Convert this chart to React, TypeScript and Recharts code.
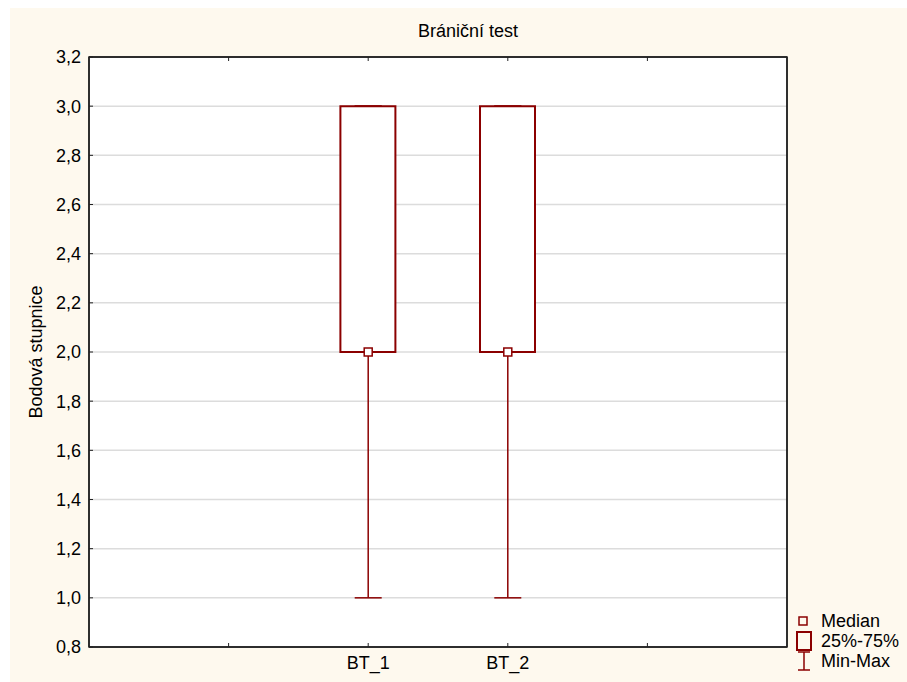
import {
  ComposedChart,
  Bar,
  Scatter,
  ErrorBar,
  XAxis,
  YAxis,
  CartesianGrid,
  Legend,
  ReferenceArea,
} from "recharts"

// hodnoty
const categories = ["BT_1", "BT_2"]
const minValues = [1.0, 1.0]
const q1Values = [2.0, 2.0]
const medianValues = [2.0, 2.0]
const q3Values = [3.0, 3.0]
const maxValues = [3.0, 3.0]

const yTicks = [0.8, 1.0, 1.2, 1.4, 1.6, 1.8, 2.0, 2.2, 2.4, 2.6, 2.8, 3.0, 3.2]
const xTicks = [1, 2, 3, 4]
const legendItems = ["Median", "25%-75%", "Min-Max"]

const RED = "#8b0000"
const FONT = "'Liberation Sans', Arial, sans-serif"

// kategorie leží na pozicích 2 a 3 osy 0..5
const rows = categories.map((name, i) => ({
  name,
  pos: i + 2,
  q1: q1Values[i],
  q3: q3Values[i],
  median: medianValues[i],
  box: [q1Values[i], q3Values[i]],
  lowErr: [q1Values[i] - minValues[i], 0],
  highErr: [0, maxValues[i] - q3Values[i]],
}))

const fmt = (v: number) => v.toFixed(1).replace(".", ",")
const xLabel = (v: number) => {
  const idx = v - 2
  return categories[idx] ?? ""
}

const MedianShape = (props: any) => {
  const { cx, cy } = props
  if (cx == null || cy == null) return <g />
  return (
    <rect x={cx - 4} y={cy - 4} width={8} height={8} fill="#fff" stroke={RED} strokeWidth={1.5} />
  )
}

const Hidden = () => <g />

const LegendContent = () => (
  <div style={{ fontFamily: FONT, fontSize: 18, color: "#000" }}>
    {legendItems.map((label, i) => (
      <div key={label} style={{ display: "flex", alignItems: "center", height: 20 }}>
        <svg width={24} height={20}>
          {i === 0 && <rect x={4} y={6} width={8} height={8} fill="none" stroke={RED} strokeWidth={1.5} />}
          {i === 1 && <rect x={2} y={1} width={14} height={18} fill="none" stroke={RED} strokeWidth={2} />}
          {i === 2 && (
            <g stroke={RED} strokeWidth={1.5}>
              <line x1={3} y1={1} x2={15} y2={1} />
              <line x1={9} y1={1} x2={9} y2={19} />
              <line x1={3} y1={19} x2={15} y2={19} />
            </g>
          )}
        </svg>
        <span style={{ marginLeft: 2, lineHeight: "20px" }}>{label}</span>
      </div>
    ))}
  </div>
)

export default function App() {
  const tickStyle = { fontSize: 18, fill: "#000", fontFamily: FONT }
  return (
    <div style={{ position: "absolute", left: 0, top: 0, width: 907, height: 682, background: "#fff" }}>
      <div style={{ position: "absolute", left: 10, top: 8, right: 0, bottom: 0, background: "#fef9ee" }} />
      <div
        style={{
          position: "absolute",
          left: 0,
          width: 936,
          top: 21,
          textAlign: "center",
          fontFamily: FONT,
          fontSize: 18,
          color: "#000",
        }}
      >
        Brániční test
      </div>
      <div style={{ position: "absolute", left: 0, top: 0 }}>
        <ComposedChart
          width={907}
          height={682}
          data={rows}
          margin={{ top: 56, right: 119, bottom: 0, left: 0 }}
        >
          <CartesianGrid vertical={false} stroke="#dcdcdc" strokeWidth={1.5} fill="#fff" />
          <XAxis
            dataKey="pos"
            type="number"
            domain={[0, 5]}
            ticks={xTicks}
            tickFormatter={xLabel}
            height={35}
            tickSize={-4}
            tickMargin={13}
            tick={tickStyle}
            axisLine={{ stroke: "#222", strokeWidth: 1.5 }}
            tickLine={{ stroke: "#222" }}
            allowDataOverflow
          />
          <XAxis
            xAxisId="top"
            dataKey="pos"
            orientation="top"
            type="number"
            domain={[0, 5]}
            ticks={xTicks}
            tickFormatter={() => ""}
            height={1}
            tickSize={-4}
            axisLine={{ stroke: "#222", strokeWidth: 1.5 }}
            tickLine={{ stroke: "#222" }}
          />
          <YAxis
            type="number"
            domain={[0.8, 3.2]}
            ticks={yTicks}
            tickFormatter={fmt}
            width={89}
            tickSize={-4}
            tickMargin={12}
            tick={tickStyle}
            axisLine={{ stroke: "#222", strokeWidth: 1.5 }}
            tickLine={{ stroke: "#222" }}
            allowDataOverflow
            interval={0}
            label={{
              value: "Bodová stupnice",
              angle: -90,
              position: "center",
              dx: -9,
              style: { fontSize: 18, fill: "#000", fontFamily: FONT },
            }}
          />
          <YAxis
            yAxisId="right"
            orientation="right"
            type="number"
            domain={[0.8, 3.2]}
            ticks={yTicks}
            tickFormatter={() => ""}
            width={1}
            tickSize={-4}
            interval={0}
            axisLine={{ stroke: "#222", strokeWidth: 1.5 }}
            tickLine={{ stroke: "#222" }}
          />
          <ReferenceArea
            x1={0}
            x2={5}
            y1={0.8}
            y2={3.2}
            fill="none"
            stroke="#222"
            strokeWidth={1.5}
            ifOverflow="visible"
          />
          <Scatter dataKey="q1" shape={Hidden} isAnimationActive={false} legendType="none">
            <ErrorBar dataKey="lowErr" direction="y" width={13.5} stroke={RED} strokeWidth={1.5} />
          </Scatter>
          <Scatter dataKey="q3" shape={Hidden} isAnimationActive={false} legendType="none">
            <ErrorBar dataKey="highErr" direction="y" width={13.5} stroke={RED} strokeWidth={1.5} />
          </Scatter>
          <Bar
            dataKey="box"
            barSize={55}
            fill="#fff"
            stroke={RED}
            strokeWidth={2}
            isAnimationActive={false}
          />
          <Scatter dataKey="median" shape={MedianShape} isAnimationActive={false} />
          <Legend
            layout="vertical"
            align="center"
            verticalAlign="middle"
            content={<LegendContent />}
            wrapperStyle={{ position: "absolute", left: 795, top: 611, width: 112, height: 62 }}
          />
        </ComposedChart>
      </div>
    </div>
  )
}
